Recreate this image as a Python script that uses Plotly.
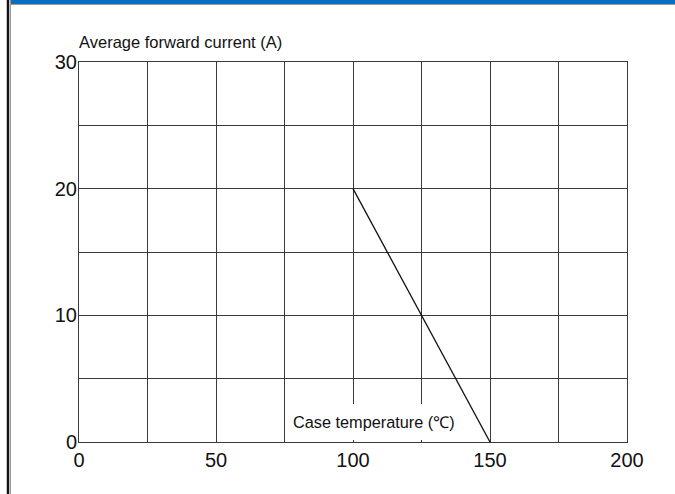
import plotly.graph_objects as go

# Data
temp_c = [100, 150]
current_a = [20, 0]
x_ticks = [0, 50, 100, 150, 200]
y_ticks = [0, 10, 20, 30]
y_title = "Average forward current (A)"
x_title = "Case temperature (\u2103)"

W, H = 675, 494
ML, MR, MT, MB = 79, 48, 62, 52
PW, PH = W - ML - MR, H - MT - MB


def px_x(px):
    return (px - ML) / PW


def px_y(py):
    return (H - MB - py) / PH


fig = go.Figure()
fig.add_trace(go.Scatter(x=temp_c, y=current_a, mode="lines",
                         line=dict(color="#111111", width=1.3),
                         hoverinfo="skip", showlegend=False))

grid = "#3a3a3a"
font = "Liberation Sans, Arial"
fig.update_xaxes(range=[0, 200], tickvals=x_ticks, ticktext=[str(v) for v in x_ticks],
                 showgrid=True, gridcolor=grid, gridwidth=1,
                 minor=dict(dtick=25, showgrid=True, gridcolor=grid, gridwidth=1),
                 showline=True, linecolor=grid, linewidth=1, mirror=True,
                 ticks="", zeroline=False,
                 tickfont=dict(family=font, size=20, color="#111"))
fig.update_yaxes(range=[0, 30], tickvals=y_ticks, ticktext=[str(v) for v in y_ticks],
                 showgrid=True, gridcolor=grid, gridwidth=1,
                 minor=dict(dtick=5, showgrid=True, gridcolor=grid, gridwidth=1),
                 showline=True, linecolor=grid, linewidth=1, mirror=True,
                 ticks="", zeroline=False,
                 tickfont=dict(family=font, size=20, color="#111"),
                 ticklabelstandoff=-3)

# white box behind x-axis title (hides grid lines)
fig.add_shape(type="rect", xref="x", yref="y", x0=76.5, x1=137.5, y0=0.15, y1=3.0,
              fillcolor="white", line=dict(width=0), layer="between")

fig.add_annotation(x=77.3, y=1.6, xref="x", yref="y", text=x_title, showarrow=False,
                   xanchor="left", yanchor="middle",
                   font=dict(family=font, size=16.3, color="#111"))
fig.add_annotation(x=px_x(77), y=px_y(42), xref="paper", yref="paper", text=y_title,
                   showarrow=False, xanchor="left", yanchor="middle",
                   font=dict(family=font, size=16.5, color="#111"))

# decorative frame: blue header bar and left border
fig.add_shape(type="rect", xref="paper", yref="paper", x0=px_x(11), x1=px_x(676),
              y0=px_y(3.2), y1=px_y(-1), fillcolor="#0a6cc2", line=dict(width=0), layer="above")
fig.add_shape(type="line", xref="paper", yref="paper", x0=px_x(11), x1=px_x(676),
              y0=px_y(3.8), y1=px_y(3.8), line=dict(color="#333333", width=1.2), layer="above")
fig.add_shape(type="line", xref="paper", yref="paper", x0=px_x(8), x1=px_x(8),
              y0=px_y(-1), y1=px_y(495), line=dict(color="#111111", width=2.5), layer="above")
fig.add_shape(type="line", xref="paper", yref="paper", x0=px_x(10.5), x1=px_x(10.5),
              y0=px_y(-1), y1=px_y(495), line=dict(color="#999999", width=1), layer="above")

fig.update_layout(width=W, height=H, margin=dict(l=ML, r=MR, t=MT, b=MB),
                  paper_bgcolor="white", plot_bgcolor="white", showlegend=False)

fig.write_html("out.html", config={"displayModeBar": False},
               post_script="document.body.style.margin='0';document.body.style.overflow='hidden';")
